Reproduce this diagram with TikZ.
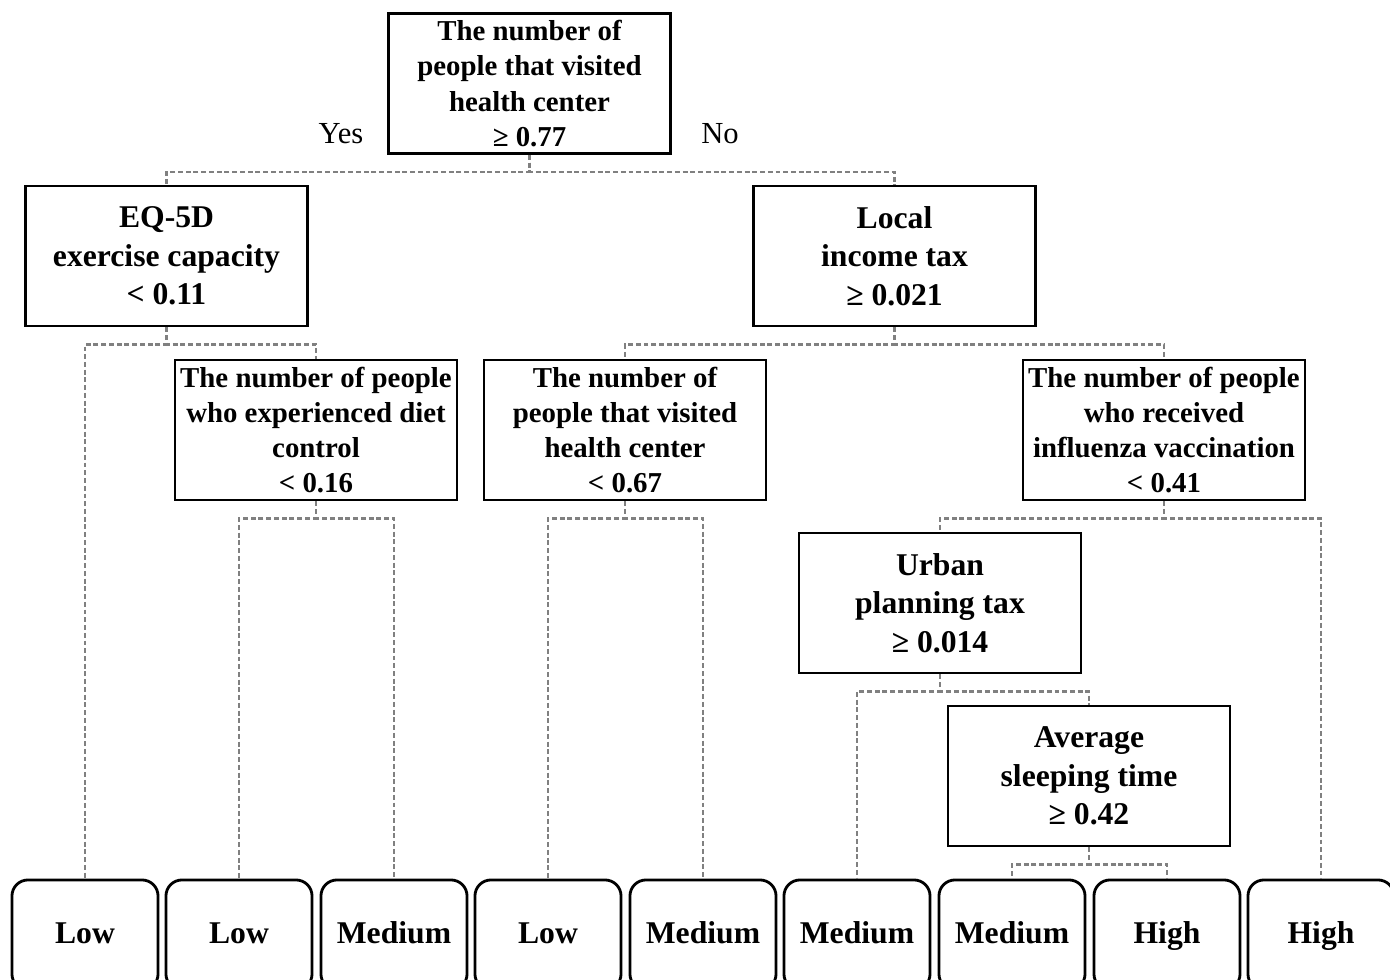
\documentclass[tikz,border=0pt]{standalone}
\usepackage{fontspec}
\setmainfont{Liberation Serif}
\usetikzlibrary{positioning}

\begin{document}
\begin{tikzpicture}[
  x=0.01cm, y=-0.01cm,
  split/.style={draw, line width=0.8pt, inner sep=0pt, align=center,
    font=\bfseries\fontsize{8.2}{10}\selectfont,
    minimum width=2.82cm, minimum height=1.40cm},
  bigsplit/.style={split, font=\bfseries\fontsize{9}{11}\selectfont},
  leaf/.style={draw, line width=0.8pt, rounded corners=0.16cm,
    minimum width=1.46cm, minimum height=1.10cm,
    text height=1.6ex, text depth=0.5ex,
    font=\bfseries\fontsize{9}{11}\selectfont},
  link/.style={draw=black!50, line width=0.7pt, dash pattern=on 1.4pt off 0.8pt},
  answer/.style={font=\fontsize{8.7}{10}\selectfont}
]
\clip (0,0) rectangle (1390,980);

% split nodes
\node[split] (root) at (529.5,83.5) {The number of\\people that visited\\health center\\≥ 0.77};
\node[bigsplit] (eq) at (166.5,256) {EQ-5D\\exercise capacity\\< 0.11};
\node[bigsplit] (inc) at (894.5,256) {Local\\income tax\\≥ 0.021};
\node[split] (diet) at (316,430) {The number of people\\who experienced diet\\control\\< 0.16};
\node[split] (hc) at (625,430) {The number of\\people that visited\\health center\\< 0.67};
\node[split] (vacc) at (1164,430) {The number of people\\who received\\influenza vaccination\\< 0.41};
\node[bigsplit] (urban) at (940,603) {Urban\\planning tax\\≥ 0.014};
\node[bigsplit] (sleep) at (1089,776) {Average\\sleeping time\\≥ 0.42};

\node[answer] (yes) at (341,134) {Yes};
\node[answer] (no) at (720,134) {No};

% leaves
\foreach \name/\x/\txt in {l1/85/Low, l2/239/Low, l3/394/Medium, l4/548/Low,
    l5/703/Medium, l6/857/Medium, l7/1012/Medium, l8/1167/High, l9/1321/High}
  \node[leaf] (\name) at (\x,935) {\txt};

% connectors
\draw[link] (root.south) -- ++(0,17) -| (eq.north);
\draw[link] (root.south) -- ++(0,17) -| (inc.north);
\draw[link] (eq.south) -- ++(0,17) -| (l1.north);
\draw[link] (eq.south) -- ++(0,17) -| (diet.north);
\draw[link] (diet.south) -- ++(0,17) -| (l2.north);
\draw[link] (diet.south) -- ++(0,17) -| (l3.north);
\draw[link] (inc.south) -- ++(0,17) -| (hc.north);
\draw[link] (inc.south) -- ++(0,17) -| (vacc.north);
\draw[link] (hc.south) -- ++(0,17) -| (l4.north);
\draw[link] (hc.south) -- ++(0,17) -| (l5.north);
\draw[link] (vacc.south) -- ++(0,17) -| (urban.north);
\draw[link] (vacc.south) -- ++(0,17) -| (l9.north);
\draw[link] (urban.south) -- ++(0,17) -| (l6.north);
\draw[link] (urban.south) -- ++(0,17) -| (sleep.north);
\draw[link] (sleep.south) -- ++(0,17) -| (l7.north);
\draw[link] (sleep.south) -- ++(0,17) -| (l8.north);
\end{tikzpicture}
\end{document}
